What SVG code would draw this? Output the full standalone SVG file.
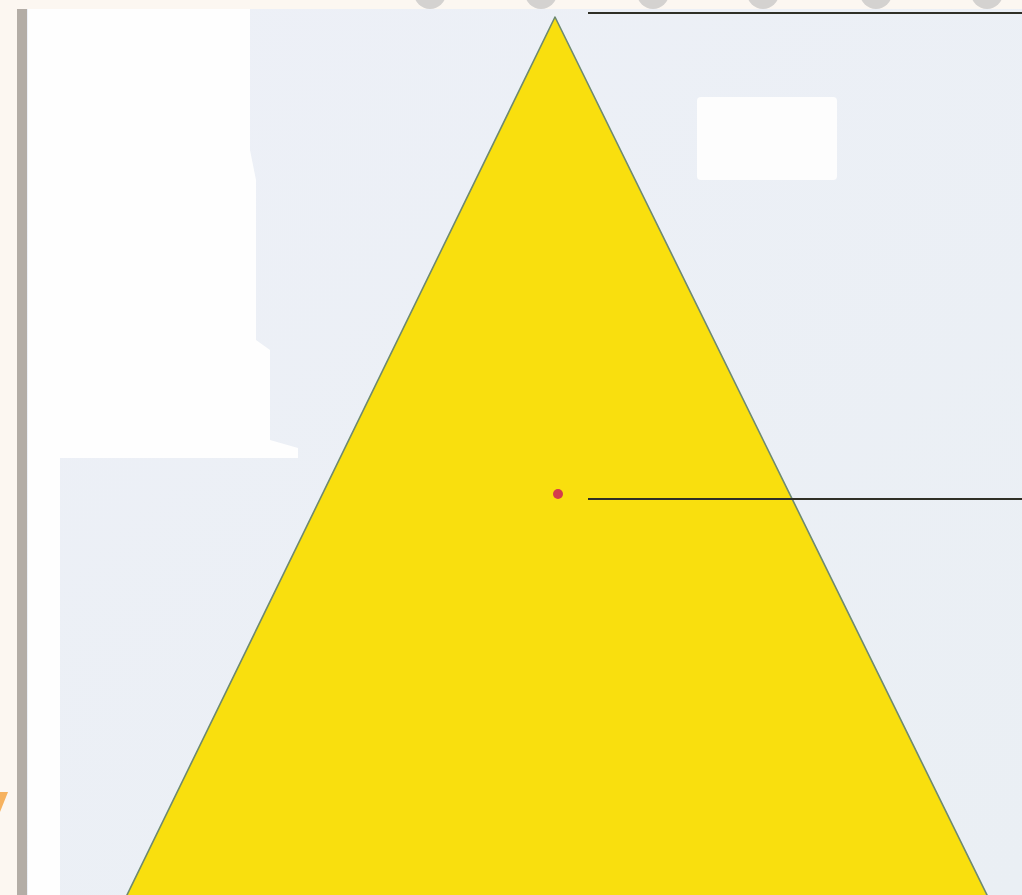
<svg xmlns="http://www.w3.org/2000/svg" width="1022" height="895" viewBox="0 0 1022 895">
<defs>
<style>
.disc{fill:#d4d2d0}
.lead{stroke:#2f2f26;stroke-width:2.2;fill:none}
</style>
<linearGradient id="bg" x1="0" y1="0" x2="1" y2="1">
<stop offset="0" stop-color="#edf0f7"/>
<stop offset="1" stop-color="#eaeff4"/>
</linearGradient>
</defs>
<rect width="1022" height="895" fill="#fcf7f1"/>
<g id="discs">
<circle class="disc" cx="430" cy="-7" r="16"/>
<circle class="disc" cx="541" cy="-7" r="16"/>
<circle class="disc" cx="653" cy="-7" r="16"/>
<circle class="disc" cx="763" cy="-7" r="16"/>
<circle class="disc" cx="876" cy="-7" r="16"/>
<circle class="disc" cx="987" cy="-7" r="16"/>
</g>
<rect x="17" y="9" width="10" height="886" fill="#b3ada6"/>
<rect x="27" y="9" width="995" height="886" fill="url(#bg)"/>
<path d="M28 9 H250 V150 L256 180 V340 L270 350 V440 L298 448 V458 H60 V895 H28 Z" fill="#fefefe"/>
<rect x="697" y="97" width="140" height="83" rx="4" fill="#fdfdfd"/>
<polygon points="0,792 8,792 0,812" fill="#f6b25f"/>
<g id="triangle">
<polygon points="555,17 126,897 988,897" fill="#f9df0e" stroke="#6e8a70" stroke-width="1.6" stroke-linejoin="round"/>
</g>
<g id="connectors">
<line class="lead" x1="588" y1="13" x2="1022" y2="13"/>
<line class="lead" x1="588" y1="499" x2="1022" y2="499"/>
</g>
<g id="point">
<circle cx="558" cy="494" r="5" fill="#d43c4c"/>
</g>
</svg>
